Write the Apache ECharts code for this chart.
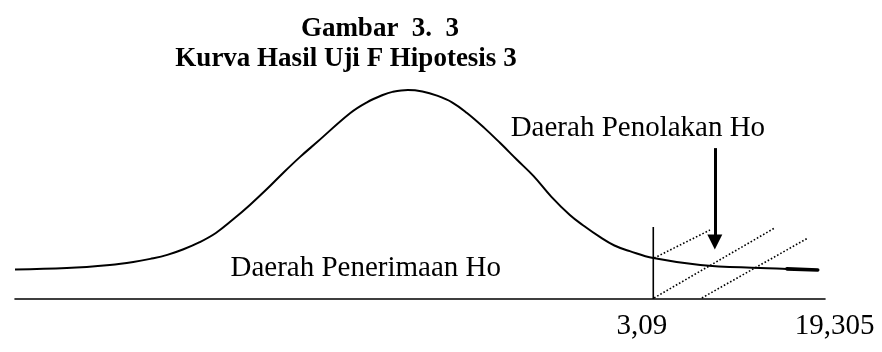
<!DOCTYPE html>
<html>
<head>
<meta charset="utf-8">
<script src="https://cdn.jsdelivr.net/npm/echarts@6/dist/echarts.min.js"></script>
<style>
  html, body { margin: 0; padding: 0; background: #fff; }
  #chart { width: 882px; height: 352px; }
</style>
</head>
<body>
<div id="chart"></div>
<script>
// F distribution sketch: horizontal position (0-100) and curve height (0-100)
const curveX = [0, 6.4, 11.7, 14.6, 16.7, 18.8, 20.8, 22.8, 24.8, 26.9, 29.0, 31.1, 33.1, 35.2, 37.3,
                41.4, 43.4, 45.4, 46.6, 48.5, 50.3, 52.1, 54.0, 55.8, 57.9, 59.9, 62.0, 64.0, 66.2,
                68.5, 70.3, 72.2, 74.0, 75.9, 78.8, 84.6, 92.0, 95.3, 99.1];
const curveY = [14.1, 14.8, 16.3, 17.7, 19.2, 21.1, 23.8, 27.2, 31.6, 38.0, 45.0, 52.6, 60.3, 68.0, 75.1,
                89.0, 94.0, 97.6, 99.1, 100, 99.3, 97.3, 94.0, 89.0, 82.0, 74.6, 66.5, 58.9, 49.0,
                40.2, 34.8, 29.7, 25.6, 22.9, 19.6, 16.3, 14.8, 14.4, 13.9];

// critical value line (F table) and its height
const criticalX = 78.8;
const criticalTop = 34.4;

// rejection-region hatching, start and end points
const hatchStart = [[78.9, 19.6], [78.9, 0.5], [84.8, 0.5]];
const hatchEnd = [[85.8, 33.0], [93.8, 34.0], [97.9, 29.2]];

// arrow pointing into the rejection region
const arrowX = 86.4;
const arrowFrom = 72.2;
const arrowTo = 27.3;

// value labels under the axis
const tickLabels = ['3,09', '19,305'];
const tickPos = [77.4, 101.2];
const tickY = -13;

// region captions
const regionLabels = ['Daerah Penerimaan Ho', 'Daerah Penolakan Ho'];
const regionPos = [[43.3, 14.5], [76.9, 81.5]];

const titleLines = ['Gambar  3.  3', 'Kurva Hasil Uji F Hipotesis 3'];

const serif = '"Liberation Serif", "Times New Roman", serif';
const ink = '#000';

const chart = echarts.init(document.getElementById('chart'), null, { renderer: 'canvas' });

const curveData = curveX.map((x, i) => [x, curveY[i]]);
// the far tail is drawn heavier
const tailData = curveData.slice(curveX.indexOf(95.3));

const hatchSeries = hatchStart.map((p, i) => ({
  type: 'line',
  data: [p, hatchEnd[i]],
  symbol: 'none',
  silent: true,
  clip: false,
  lineStyle: { color: ink, width: 1.6, type: [1.6, 2] },
  z: 3
}));

const textLabel = {
  show: true, position: 'inside', formatter: p => p.name,
  fontFamily: serif, fontSize: 29, color: ink, opacity: 1
};

chart.setOption({
  animation: false,
  backgroundColor: '#fff',
  title: [
    {
      text: titleLines[0],
      left: 375, top: 11, textAlign: 'center',
      textStyle: { fontFamily: serif, fontWeight: 'bold', fontSize: 27, color: ink }
    },
    {
      text: titleLines[1],
      left: 341, top: 41, textAlign: 'center',
      textStyle: { fontFamily: serif, fontWeight: 'bold', fontSize: 27, color: ink }
    }
  ],
  grid: { left: 15, right: 57, top: 90, bottom: 53, containLabel: false },
  xAxis: {
    type: 'value', min: 0, max: 100,
    axisLine: { show: true, onZero: true, lineStyle: { color: ink, width: 1.6 } },
    axisTick: { show: false }, axisLabel: { show: false }, splitLine: { show: false }
  },
  yAxis: {
    type: 'value', min: 0, max: 100,
    axisLine: { show: false }, axisTick: { show: false },
    axisLabel: { show: false }, splitLine: { show: false }
  },
  series: [
    {
      type: 'line',
      data: curveData,
      smooth: 0.4,
      symbol: 'none',
      clip: false,
      lineStyle: { color: ink, width: 2 },
      z: 5
    },
    {
      type: 'line',
      data: tailData,
      smooth: 0.4,
      symbol: 'none',
      clip: false,
      lineStyle: { color: ink, width: 3.6, cap: 'round' },
      z: 5
    },
    {
      type: 'line',
      data: [[criticalX, 0], [criticalX, criticalTop]],
      symbol: 'none',
      lineStyle: { color: ink, width: 1.6 },
      z: 4
    },
    ...hatchSeries,
    {
      type: 'line',
      data: [],
      markLine: {
        silent: true,
        symbol: ['none', 'triangle'],
        symbolSize: [15, 15],
        label: { show: false },
        lineStyle: { color: ink, width: 3, type: 'solid' },
        data: [[{ coord: [arrowX, arrowFrom] }, { coord: [arrowX, arrowTo] }]]
      }
    },
    {
      type: 'scatter',
      symbolSize: 0,
      clip: false,
      silent: true,
      itemStyle: { opacity: 1 },
      data: tickLabels.map((t, i) => ({ value: [tickPos[i], tickY], name: t })),
      label: textLabel
    },
    {
      type: 'scatter',
      symbolSize: 0,
      clip: false,
      silent: true,
      itemStyle: { opacity: 1 },
      data: regionLabels.map((t, i) => ({ value: regionPos[i], name: t })),
      label: textLabel
    }
  ]
});
</script>
</body>
</html>
